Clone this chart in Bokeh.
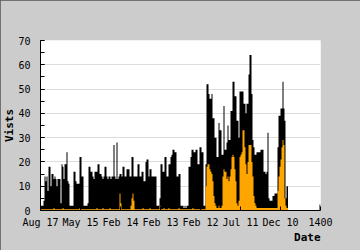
from bokeh.plotting import figure
from bokeh.models import ColumnDataSource, FixedTicker, SingleIntervalTicker, Range1d, Title
from bokeh.embed import file_html
from bokeh.resources import INLINE

# x-axis tick positions (day index) and their labels
tick_values = [0, 200, 400, 600, 800, 1000, 1200, 1400]
tick_labels = ["Aug 17", "May 15", "Feb 14", "Feb 13", "Feb 12", "Jul 11", "Dec 10", "1400"]

# visits per 5-day bucket (black series)
visits = [
    2, 2, 2, 4, 14, 12, 14, 8, 18, 18, 10, 15, 15, 13, 14, 13, 10, 13, 13, 13,
    3, 19, 18, 13, 19, 19, 24, 12, 11, 2, 2, 2, 2, 16, 16, 12, 11, 11, 11, 22,
    22, 14, 14, 2, 2, 2, 2, 3, 18, 18, 16, 16, 14, 13, 16, 16, 16, 19, 19, 15,
    15, 14, 13, 14, 18, 18, 14, 13, 14, 14, 13, 14, 14, 27, 14, 13, 28, 13, 14, 15,
    15, 14, 18, 18, 14, 14, 17, 17, 17, 14, 14, 22, 22, 14, 14, 14, 14, 19, 19, 14,
    14, 16, 16, 12, 12, 20, 21, 21, 14, 17, 17, 14, 14, 14, 14, 14, 2, 2, 2, 5,
    19, 19, 16, 16, 22, 22, 14, 14, 19, 19, 22, 23, 25, 25, 24, 24, 14, 14, 15, 15,
    2, 2, 2, 1, 2, 1, 2, 2, 18, 18, 22, 25, 25, 24, 24, 25, 25, 19, 19, 26,
    26, 24, 24, 2, 2, 19, 52, 52, 48, 46, 46, 48, 38, 38, 30, 30, 22, 22, 36, 33,
    33, 23, 23, 43, 25, 25, 28, 35, 29, 29, 41, 41, 53, 53, 47, 47, 37, 37, 30, 49,
    49, 49, 49, 44, 44, 40, 44, 44, 56, 64, 64, 48, 29, 26, 23, 23, 24, 24, 24, 24,
    25, 25, 25, 16, 16, 15, 16, 32, 5, 4, 4, 4, 6, 6, 7, 7, 7, 26, 39, 39,
    42, 42, 53, 42, 37, 5, 10, 10,
]

# second series (orange)
other = [
    0.5, 0.5, 0.5, 0.5, 0.5, 0.5, 0.5, 0.5, 0.5, 0.5, 0.5, 0.5, 0.5, 1, 0.5, 0.5, 0.5, 0.5, 0.5, 0.5,
    0.5, 0.5, 1, 0.5, 0.5, 0.5, 0.5, 0.5, 0.5, 0.5, 0.5, 0.5, 0.5, 0.5, 0.5, 0.5, 0.5, 0.5, 0.5, 1,
    0.5, 0.5, 0.5, 0.5, 0.5, 0.5, 0.5, 0.5, 0.5, 0.5, 0.5, 0.5, 0.5, 0.5, 0.5, 0.5, 1, 0.5, 0.5, 0.5,
    0.5, 0.5, 1, 0.5, 0.5, 0.5, 0.5, 0.5, 0.5, 1, 0.5, 0.5, 0.5, 0.5, 0.5, 0.5, 0.5, 0.5, 0.5, 7,
    3, 0.5, 0.5, 0.5, 0.5, 0.5, 0.5, 0.5, 0.5, 0.5, 2, 5, 7, 4, 0.5, 0.5, 0.5, 0.5, 0.5, 0.5,
    0.5, 0.5, 1, 0.5, 0.5, 0.5, 0.5, 0.5, 0.5, 1, 0.5, 0.5, 0.5, 0.5, 0.5, 0.5, 0.5, 0.5, 0.5, 2,
    0.5, 0.5, 0.5, 1, 0.5, 0.5, 0.5, 0.5, 1, 0.5, 0.5, 0.5, 0.5, 0.5, 0.5, 0.5, 0.5, 0.5, 1, 0.5,
    0.5, 0.5, 0.5, 0.5, 0.5, 0.5, 0.5, 0.5, 0.5, 0.5, 0.5, 0.5, 1, 0.5, 0.5, 0.5, 0.5, 0.5, 0.5, 0.5,
    0.5, 0.5, 0.5, 0.5, 0.5, 10, 18, 19, 19, 17, 16, 15, 12, 6, 3, 2, 1, 1, 2, 1,
    1, 2, 14, 17, 16, 16, 13, 14, 12, 14, 17, 22, 23, 22, 17, 12, 3, 2, 4, 22,
    23, 24, 33, 33, 26, 19, 15, 20, 27, 27, 27, 20, 14, 6, 3, 2, 1, 1, 1, 1,
    1, 1, 1, 1, 1, 1, 1, 1, 1, 1, 1, 1, 1, 1, 1, 1, 1, 8, 14, 18,
    21, 26, 29, 27, 5, 2, 1, 1,
]

# lone bucket at the very end of the range
tail_day = [1397.5]
tail_visits = [2.5]

days = [2.5 + 5 * i for i in range(len(visits))]

src = ColumnDataSource(dict(day=days, visits=visits, other=other))

p = figure(
    width=360, height=250, output_backend="svg", toolbar_location=None,
    x_range=Range1d(0, 1400), y_range=Range1d(0, 70),
    min_border_left=40, min_border_right=40, min_border_top=40, min_border_bottom=40,
    background_fill_color="white", border_fill_color="#cccccc",
)
p.outline_line_color = None
p.styles = {"outline": "1px solid #555555", "outline-offset": "-1px"}

p.varea_step(x="day", y1=0, y2="visits", step_mode="center", source=src, fill_color="black")
p.vbar(x=tail_day, top=tail_visits, width=5, fill_color="black", line_color=None)
p.varea_step(x="day", y1=0, y2="other", step_mode="center", source=src, fill_color="#ffa500")

font = "DejaVu Sans Mono"

p.xgrid.visible = False
p.ygrid.grid_line_color = "#dddddd"
p.ygrid.grid_line_width = 1

ya = p.yaxis[0]
ya.ticker = SingleIntervalTicker(interval=10, num_minor_ticks=2)
ya.major_tick_in = 4
ya.major_tick_out = 0
ya.minor_tick_in = 4
ya.minor_tick_out = 0
ya.major_label_standoff = 10
ya.major_label_text_font = font
ya.major_label_text_font_size = "10px"
ya.major_label_text_color = "black"
ya.axis_line_color = "black"
ya.axis_label = "Vists"
ya.axis_label_text_font = font
ya.axis_label_text_font_style = "bold"
ya.axis_label_text_font_size = "11px"
ya.axis_label_text_color = "black"
ya.axis_label_standoff = -1

xa = p.xaxis[0]
xa.ticker = FixedTicker(ticks=tick_values, minor_ticks=[])
xa.major_label_overrides = {v: l for v, l in zip(tick_values, tick_labels)}
xa.major_tick_in = 4
xa.major_tick_out = 0
xa.major_label_standoff = 6
xa.major_label_text_font = font
xa.major_label_text_font_size = "10px"
xa.major_label_text_color = "black"
xa.axis_line_color = "black"

p.add_layout(Title(text="Date", align="right", text_font=font, text_font_style="bold",
                   text_font_size="11px", text_color="black", standoff=-3, offset=0), "below")

open("out.html", "w").write(file_html(p, INLINE))
